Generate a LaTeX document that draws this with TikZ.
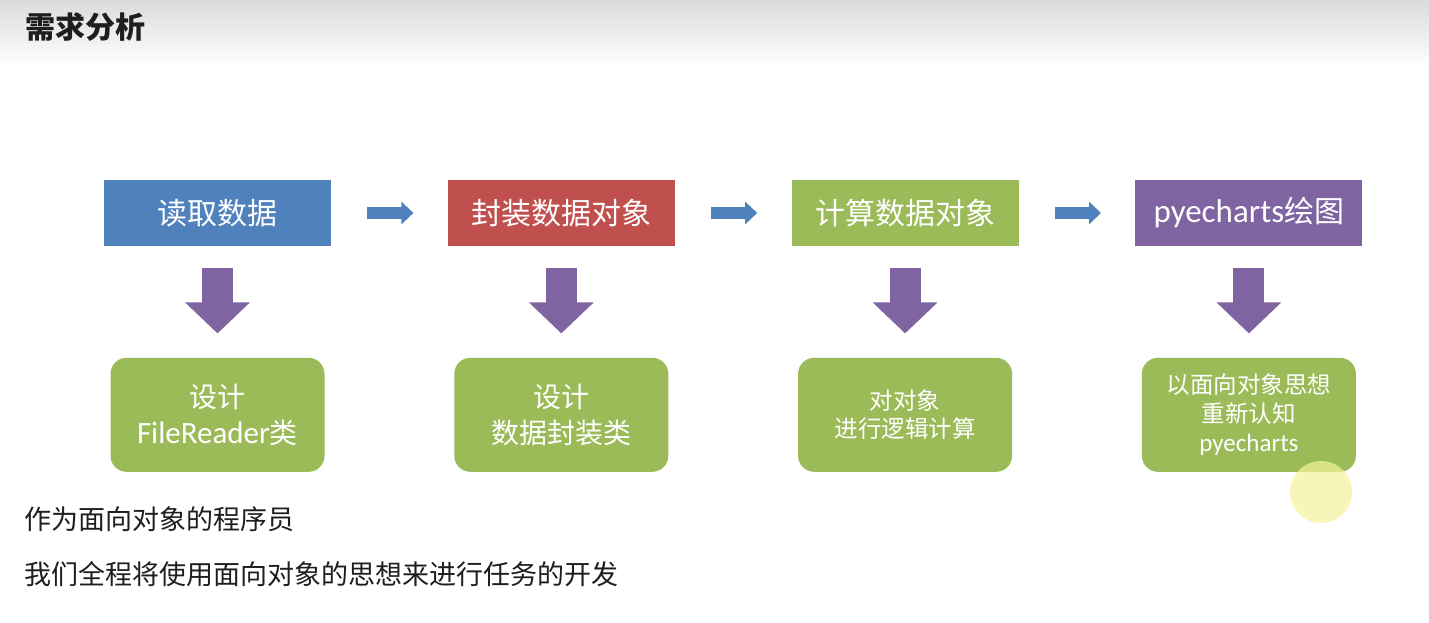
\documentclass[tikz,border=0pt]{standalone}
\usepackage{fontspec}
\setmainfont{Noto Sans CJK SC}
\newfontfamily\lat{Carlito}
\usepackage{xcolor}
\usepackage{tikz}
\usetikzlibrary{arrows.meta,positioning}
\definecolor{blu}{HTML}{4F81BD}
\definecolor{rd}{HTML}{C0504D}
\definecolor{grn}{HTML}{9BBB59}
\definecolor{prp}{HTML}{8064A2}
\definecolor{ink}{HTML}{1E1E1E}
\definecolor{hl}{HTML}{F4F39A}

\begin{document}
\begin{tikzpicture}[x=0.5pt,y=-0.5pt,
  top/.style={fill=#1,text=white,minimum width=113.5pt,minimum height=33pt,inner sep=0pt,font=\fontsize{15}{18}\selectfont},
  cls/.style={fill=grn,rounded corners=8pt,text=white,minimum width=107pt,minimum height=57pt,align=center,inner sep=0pt},
  harr/.style={draw=blu,line width=6pt,-{Triangle[length=6pt,width=11pt]},shorten <=18pt,shorten >=17pt},
  varr/.style={draw=prp,line width=15.5pt,-{Triangle[length=15.5pt,width=31.5pt]},shorten <=11pt,shorten >=12pt},
  txt/.style={anchor=west,inner sep=0pt,text=ink,font=\fontsize{13.5}{16}\selectfont}]
\useasboundingbox (0,0) rectangle (1429,622);
\fill[white] (0,0) rectangle (1429,622);
\shade[top color=black!14,bottom color=white] (0,0) rectangle (1429,66);
\node[anchor=west,inner sep=0pt,text=ink,font=\fontsize{15}{18}\selectfont\bfseries] (title) at (25,27) {需求分析};
% top row
\node[top=blu] (read) at (217.5,213) {读取数据};
\node[top=rd,right=58pt of read] (wrap) {封装数据对象};
\node[top=grn,right=58pt of wrap] (calc) {计算数据对象};
\node[top=prp,right=58pt of calc] (plot) {{\lat\fontsize{16.5}{18}\selectfont pyecharts}绘图};
\draw[harr] (read)--(wrap);
\draw[harr] (wrap)--(calc);
\draw[harr] (calc)--(plot);
% classes
\node[cls,below=55.5pt of read,font=\fontsize{14}{18}\selectfont] (readcls) {设计\\{\lat\fontsize{15.5}{18}\selectfont FileReader}类};
\node[cls,below=55.5pt of wrap,font=\fontsize{14}{18}\selectfont] (wrapcls) {设计\\数据封装类};
\node[cls,below=55.5pt of calc,font=\fontsize{11.75}{14}\selectfont] (calccls) {对对象\\进行逻辑计算};
\node[cls,below=55.5pt of plot,font=\fontsize{11.75}{14.5}\selectfont] (plotcls) {以面向对象思想\\重新认知\\{\lat\fontsize{12.5}{14.5}\selectfont pyecharts}};
\draw[varr] (read.south)--(readcls.north);
\draw[varr] (wrap.south)--(wrapcls.north);
\draw[varr] (calc.south)--(calccls.north);
\draw[varr] (plot.south)--(plotcls.north);
% notes
\node[txt] (note1) at (24,519) {作为面向对象的程序员};
\node[txt] (note2) at (24,574) {我们全程将使用面向对象的思想来进行任务的开发};
\fill[hl,opacity=.7] (1321,492) circle[radius=15.5pt];
\end{tikzpicture}
\end{document}
